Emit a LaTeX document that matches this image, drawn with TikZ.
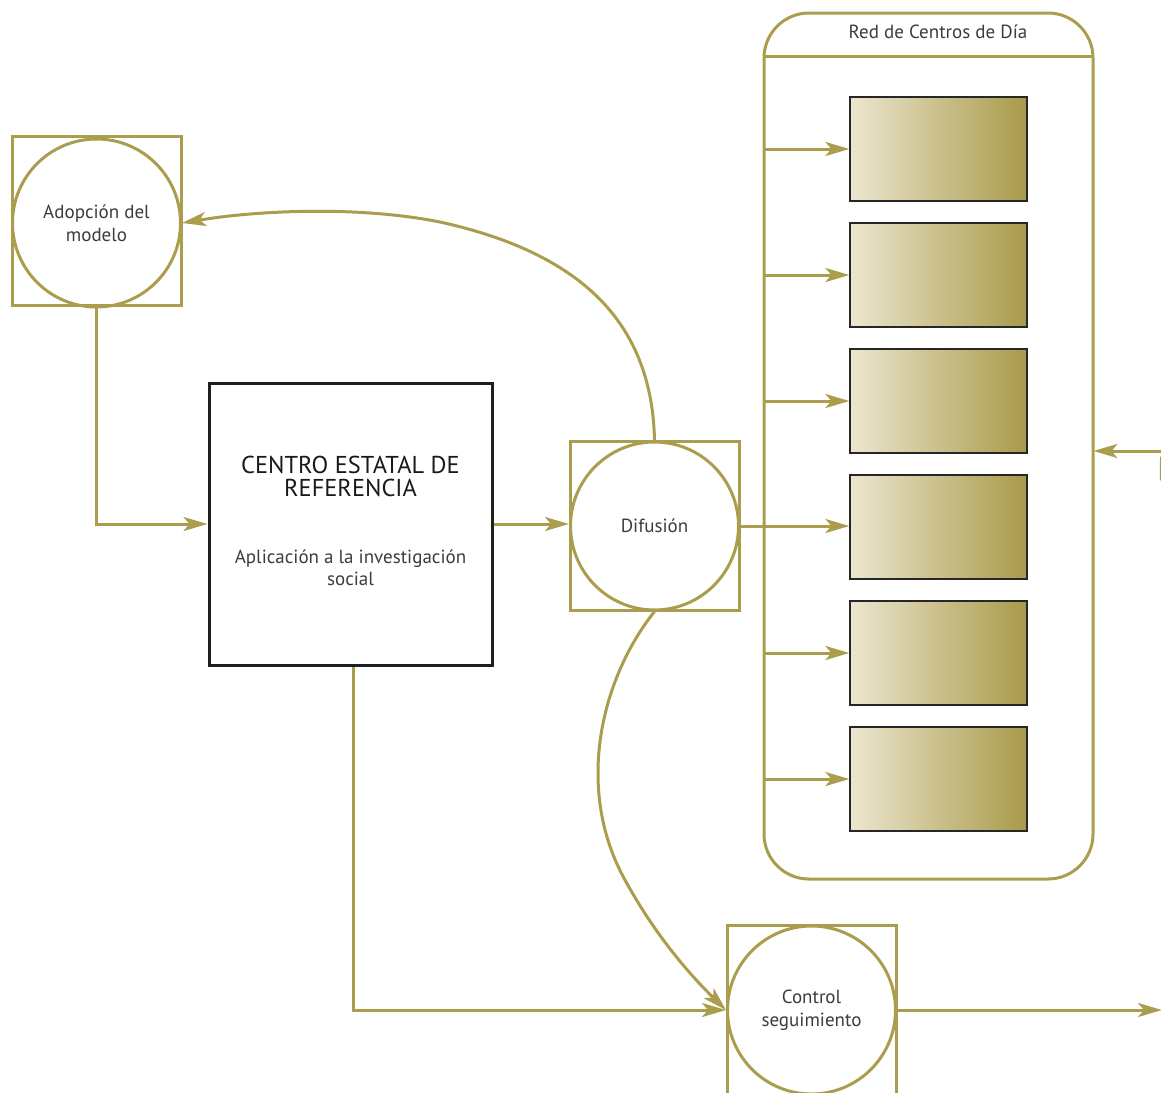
\documentclass[tikz,border=0pt]{standalone}
\usepackage{fontspec}
\setmainfont{PT Sans}
\usetikzlibrary{arrows.meta,shapes.geometric}
\definecolor{olive}{RGB}{170,158,78}
\definecolor{txt}{RGB}{60,60,60}
\definecolor{gradL}{RGB}{236,230,207}
\definecolor{gradR}{RGB}{168,154,74}
\tikzset{
  frame/.style={draw=olive,line width=1.5pt,minimum size=84.5pt,inner sep=0pt},
  ring/.style={draw=olive,line width=1.5pt,circle,minimum size=84pt,inner sep=0pt,align=center,font=\fontsize{9.5}{11.5}\selectfont,text=txt},
  arr/.style={draw=olive,line width=1.5pt,-{Stealth[length=12pt,width=7pt,inset=3pt]}},
  ln/.style={draw=olive,line width=1.5pt},
  gbox/.style={draw=black!85,line width=0.6pt,left color=gradL,right color=gradR,minimum width=88.5pt,minimum height=52pt,inner sep=0pt},
}
\begin{document}
\begin{tikzpicture}[x=0.5pt,y=-0.5pt]
\useasboundingbox (0,0) rectangle (1161,1092);
% container
\draw[ln,rounded corners=22.5pt] (764,879) rectangle (1093,13);
\node[inner sep=0pt,minimum width=164.5pt,minimum height=433pt] (red) at (928.5,446) {};
\coordinate (hl) at (764,56);
\coordinate (hr) at (1093,56);
\draw[ln] (hl) -- (hr);
\node[font=\fontsize{9.5}{11.5}\selectfont,text=txt] (redt) at (938,32) {Red de Centros de Día};
% gradient boxes
\foreach \i/\y in {1/149,2/275,3/401,4/527,5/653,6/779}{
  \node[gbox] (b\i) at (938.5,\y) {};
  \coordinate (s\i) at (764,\y);
}
\foreach \i in {1,2,3,5,6}{ \draw[arr] (s\i) -- (b\i.west); }
% nodes
\node[frame] (adop) at (96.5,221) {};
\node[ring] (adopc) at (96.5,223) {Adopción del\\modelo};
\node[draw=black!88,line width=1.5pt,minimum width=141.5pt,minimum height=141pt,inner sep=0pt] (centro) at (350.5,524) {};
\node[align=center,font=\fontsize{12.2}{11.5}\selectfont,text=black!90] (ct) at (350.5,476) {CENTRO ESTATAL DE\\REFERENCIA};
\node[align=center,font=\fontsize{9.5}{11}\selectfont,text=txt] (cs) at (350.5,568) {Aplicación a la investigación\\social};
\node[frame] (dif) at (654.5,526) {};
\node[ring] (difc) at (654.5,526) {Difusión};
\node[frame] (ctrl) at (811.5,1010) {};
\node[ring] (ctrlc) at (811.5,1010) {Control\\seguimiento};
% connectors
\draw[arr] (adop.south) |- (centro.west);
\draw[arr] (centro.east) -- (centro.east -| difc.west);
\draw[arr] (difc.east) -- (difc.east -| b4.west);
\draw[arr] (dif.north) .. controls (652,330) and (590,255) .. (440,222) .. controls (360,206) and (260,210) .. (adopc.east);
\draw[arr] (difc.south) .. controls (600,680) and (575,790) .. (625,880) .. controls (655,935) and (690,975) .. (ctrlc.west);
\draw[arr] ([xshift=1.5pt]centro.south) |- (ctrlc.west);
\coordinate (outR) at (1162,1010);
\draw[arr] (ctrlc.east) -- (outR);
\coordinate (inR) at (1170,451);
\draw[arr] (inR) -- (inR -| red.east);
\coordinate (offA) at (1190,560);
\coordinate (offB) at (1160,456);
\draw[arr] (offA) -- (offB);
\end{tikzpicture}
\end{document}
